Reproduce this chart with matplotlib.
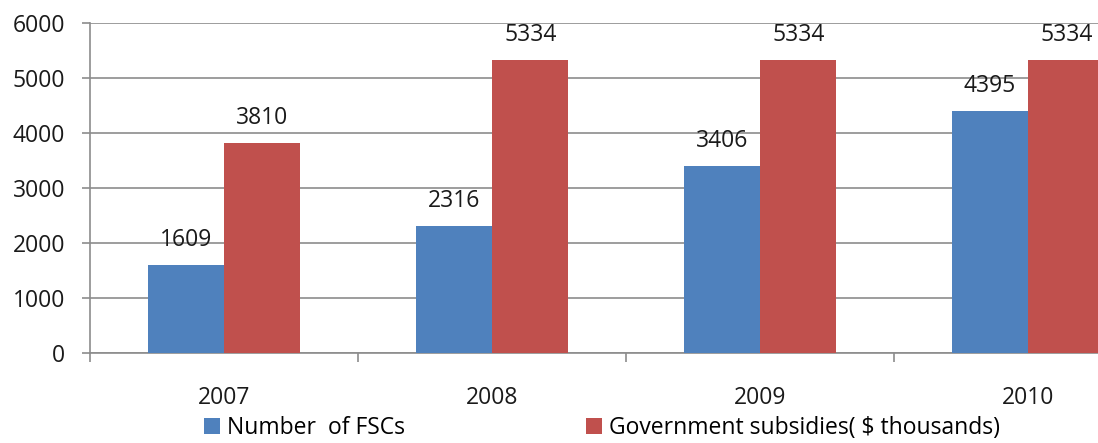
import numpy as np
import matplotlib
matplotlib.use('Agg')
import matplotlib.pyplot as plt
from matplotlib.patches import Patch

# Data
years = ['2007', '2008', '2009', '2010']
fscs = [1609, 2316, 3406, 4395]
subsidies = [3810, 5334, 5334, 5334]
series_names = ['Number  of FSCs', 'Government subsidies( $ thousands)']
yticks = [0, 1000, 2000, 3000, 4000, 5000, 6000]

blue = '#4F81BD'
red = '#C0504D'
grid_col = '#8C8C8C'

plt.rcParams['font.family'] = ['Open Sans', 'DejaVu Sans']
fs = 16.5

W, H = 1098, 443
fig = plt.figure(figsize=(W / 100, H / 100), dpi=100)
# plot area runs past the right edge of the picture, as in the reference
ax = fig.add_axes([90 / W, 90 / H, 1072 / W, 330 / H])

x = np.arange(len(years))
bw = 0.285
b1 = ax.bar(x - bw / 2, fscs, bw, color=blue, zorder=3)
b2 = ax.bar(x + bw / 2, subsidies, bw, color=red, zorder=3)

for bars, vals in ((b1, fscs), (b2, subsidies)):
    for rect, v in zip(bars, vals):
        ax.annotate(str(v), (rect.get_x() + rect.get_width() / 2, v),
                    xytext=(0, 18), textcoords='offset points',
                    ha='center', va='center', fontsize=fs, color='#1a1a1a')

ax.set_xlim(-0.5, len(years) - 0.5)
ax.set_ylim(0, 6000)
ax.set_yticks(yticks)
ax.yaxis.grid(True, color=grid_col, linewidth=1.2, zorder=0)

ax.set_xticks(x)
ax.set_xticklabels(years)
ax.set_xticks(np.arange(-0.5, len(years)), minor=True)
ax.tick_params(axis='x', which='major', length=0, pad=24, labelsize=fs, colors='#1a1a1a')
ax.tick_params(axis='x', which='minor', length=6.5, width=1.2, color=grid_col)
ax.tick_params(axis='y', length=6, width=1.2, color=grid_col, pad=12, labelsize=fs, labelcolor='#1a1a1a')

for s in ('top', 'right'):
    ax.spines[s].set_visible(False)
for s in ('left', 'bottom'):
    ax.spines[s].set_color(grid_col)
    ax.spines[s].set_linewidth(1.2)

handles = [Patch(facecolor=blue), Patch(facecolor=red)]
fig.legend(handles, series_names, loc='lower center', bbox_to_anchor=(602 / W, -0.04),
           ncol=2, frameon=False, fontsize=fs, handlelength=0.7, handleheight=0.7,
           handletextpad=0.3, columnspacing=7.9)

fig.savefig('out.png', dpi=100)
